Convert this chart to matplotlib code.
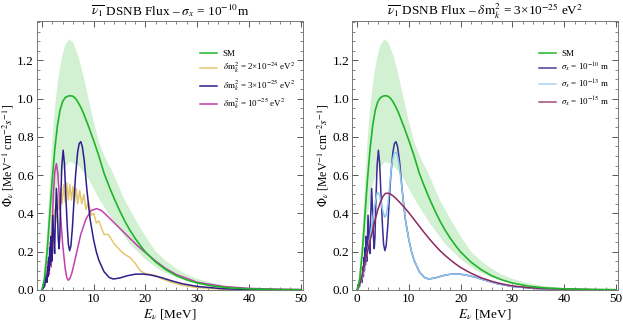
import numpy as np
import matplotlib
matplotlib.use("Agg")
import matplotlib.pyplot as plt
from matplotlib.ticker import MultipleLocator, FixedLocator, FormatStrFormatter

plt.rcParams['font.family'] = ['Liberation Serif', 'DejaVu Serif']
plt.rcParams['mathtext.fontset'] = 'stix'

# ---------------- data ----------------
sm_E = [0, 0.5, 1, 1.5, 2, 2.5, 3, 3.5, 4, 4.5, 5, 5.5, 6, 6.5, 7, 7.5, 8, 9, 10, 11, 12, 13,
        14, 15, 16, 17, 18, 19, 20, 22, 24, 26, 28, 30, 33, 36, 40, 45, 50]
sm_phi = [0, 0.06, 0.2, 0.39, 0.58, 0.74, 0.86, 0.94, 0.985, 1.005, 1.013, 1.015, 1.012, 1.0,
          0.98, 0.955, 0.925, 0.855, 0.78, 0.7, 0.61, 0.54, 0.475, 0.415, 0.36, 0.312, 0.27,
          0.232, 0.198, 0.145, 0.105, 0.074, 0.052, 0.036, 0.02, 0.011, 0.0055, 0.0022, 0.001]

band_hi_E = [0, 0.5, 1, 1.5, 2, 2.5, 3, 3.5, 4, 4.5, 5.3, 6, 7, 8, 9, 10, 11, 12, 13, 13.5, 15,
             16, 17, 18, 20, 22, 24, 26, 28, 30, 33, 36, 40, 50]
band_hi = [0, 0.12, 0.3, 0.55, 0.78, 0.95, 1.07, 1.16, 1.23, 1.28, 1.31, 1.295, 1.225, 1.12,
           1.0, 0.88, 0.775, 0.705, 0.65, 0.625, 0.53, 0.47, 0.42, 0.37, 0.28, 0.2, 0.15, 0.11,
           0.08, 0.058, 0.035, 0.02, 0.01, 0.002]
band_lo_E = [0, 0.5, 1, 2, 3, 4, 5.4, 7, 8.6, 11.2, 14, 17, 20, 23, 26, 30, 35, 40, 50]
band_lo = [0, 0.03, 0.12, 0.38, 0.55, 0.63, 0.67, 0.65, 0.6, 0.47, 0.35, 0.24, 0.16, 0.1,
           0.065, 0.035, 0.015, 0.006, 0.001]

# delta m^2 = 2e-24 eV^2 (yellow)
y24_E = [0, 0.8, 1.2, 1.5, 1.8, 2.1, 2.4, 2.7, 3.0, 3.3, 3.6, 3.9, 4.2, 4.5, 4.8, 5.1, 5.4,
         5.7, 6.0, 6.3, 6.6, 6.9, 7.3, 7.7, 8.1, 8.5, 9.0, 9.5, 10.0, 10.5, 11.0, 12.0, 12.8,
         14.0, 15.0, 16.0, 17.0, 18.0, 19.0, 20.0, 21.0, 22.0, 23.0, 25.0, 27.0, 30.0, 35.0,
         40.0, 50.0]
y24_phi = [0, 0.05, 0.15, 0.1, 0.3, 0.2, 0.42, 0.35, 0.5, 0.42, 0.53, 0.45, 0.55, 0.46, 0.56,
           0.47, 0.55, 0.47, 0.54, 0.46, 0.53, 0.45, 0.52, 0.45, 0.5, 0.42, 0.46, 0.39, 0.4,
           0.35, 0.36, 0.29, 0.29, 0.24, 0.21, 0.185, 0.17, 0.14, 0.1, 0.085, 0.08, 0.075,
           0.06, 0.04, 0.025, 0.012, 0.004, 0.002, 0.0]

# delta m^2 = 3e-25 eV^2, sigma_x = 1e-10 m (indigo)
b_E = [0, 0.5, 0.8, 0.95, 1.1, 1.2, 1.3, 1.4, 1.5, 1.6, 1.75, 1.9, 2.1, 2.3, 2.45, 2.6, 2.8,
       3.0, 3.15, 3.3, 3.45, 3.6, 3.85, 4.1, 4.35, 4.6, 4.9, 5.1, 5.35, 5.6, 5.9, 6.2, 6.5,
       6.9, 7.2, 7.5, 7.8, 8.2, 8.7, 9.3, 10, 10.5, 11, 12, 13, 13.8, 15, 16.5, 18, 19.5, 21,
       23, 25, 27, 30, 35, 40, 50]
b_phi = [0, 0.02, 0.07, 0.04, 0.12, 0.07, 0.17, 0.1, 0.22, 0.13, 0.28, 0.15, 0.39, 0.27,
         0.19, 0.38, 0.53, 0.4, 0.27, 0.215, 0.28, 0.45, 0.65, 0.73, 0.66, 0.5, 0.33, 0.24,
         0.205, 0.23, 0.33, 0.47, 0.6, 0.72, 0.765, 0.775, 0.75, 0.67, 0.52, 0.37, 0.26, 0.2,
         0.155, 0.095, 0.065, 0.057, 0.062, 0.074, 0.082, 0.083, 0.078, 0.065, 0.048, 0.033,
         0.018, 0.006, 0.002, 0.0]

# delta m^2 = 1e-25 eV^2 (magenta)
m_E = [0, 0.5, 0.8, 1.0, 1.2, 1.4, 1.6, 1.8, 2.0, 2.2, 2.5, 2.8, 3.1, 3.5, 4.0, 4.5, 4.8, 5.1,
       5.4, 5.8, 6.5, 7.5, 8.5, 9.5, 10.6, 11.5, 12.5, 14, 15.5, 17, 18.5, 20, 22, 24, 26, 28,
       30, 35, 40, 45, 50]
m_phi = [0, 0.02, 0.08, 0.04, 0.15, 0.08, 0.25, 0.12, 0.35, 0.5, 0.62, 0.66, 0.6, 0.43, 0.24,
         0.11, 0.065, 0.05, 0.06, 0.09, 0.17, 0.29, 0.37, 0.415, 0.425, 0.415, 0.39, 0.35,
         0.31, 0.27, 0.23, 0.195, 0.15, 0.11, 0.08, 0.06, 0.04, 0.018, 0.008, 0.004, 0.002]

# sigma_x = 1e-13 m (light blue)
lb_E = [0, 0.5, 1, 1.5, 2, 2.5, 3, 3.5, 3.9, 4.3, 4.8, 5.3, 5.6, 5.9, 6.3, 6.7, 7.1, 7.4, 7.7,
        8.0, 8.3, 8.7, 9.3, 10, 10.5, 11, 12, 13, 13.8, 15, 16.5, 18, 19.5, 21, 23, 25, 27,
        30, 35, 40, 50]
lb_phi = [0, 0.02, 0.07, 0.13, 0.2, 0.28, 0.37, 0.46, 0.51, 0.5, 0.43, 0.38, 0.39, 0.44,
          0.55, 0.66, 0.71, 0.72, 0.71, 0.67, 0.61, 0.52, 0.37, 0.26, 0.2, 0.155, 0.095,
          0.065, 0.057, 0.062, 0.074, 0.082, 0.083, 0.078, 0.065, 0.048, 0.033, 0.018, 0.006,
          0.002, 0.0]

# sigma_x = 1e-15 m (maroon)
mr_E = [0, 0.5, 1, 1.5, 2, 2.5, 3, 3.5, 4, 4.5, 5, 5.5, 6, 6.5, 7, 7.5, 8, 9, 10, 11, 12, 13,
        14, 15, 16, 17, 18, 19, 20, 22, 24, 26, 28, 30, 33, 36, 40, 45, 50]
mr_phi = [0, 0.03, 0.08, 0.14, 0.2, 0.26, 0.31, 0.37, 0.42, 0.46, 0.49, 0.505, 0.505, 0.5,
          0.49, 0.478, 0.464, 0.435, 0.403, 0.368, 0.333, 0.298, 0.265, 0.234, 0.205, 0.18,
          0.157, 0.136, 0.117, 0.087, 0.063, 0.045, 0.031, 0.021, 0.012, 0.007, 0.0035,
          0.0015, 0.0007]

titles = [r"$\overline{\nu_1}$ DSNB Flux – $\sigma_x$ = 10$^{-10}$m",
          r"$\overline{\nu_1}$ DSNB Flux – $\delta\mathrm{m}_k^2$ = 3×10$^{-25}$ eV$^2$"]
left_labels = ["SM", r"$\delta\mathrm{m}_k^2$ = 2×10$^{-24}$ eV$^2$",
               r"$\delta\mathrm{m}_k^2$ = 3×10$^{-25}$ eV$^2$",
               r"$\delta\mathrm{m}_k^2$ = 10$^{-25}$ eV$^2$"]
right_labels = ["SM", r"$\sigma_x$ = 10$^{-10}$ m", r"$\sigma_x$ = 10$^{-13}$ m",
                r"$\sigma_x$ = 10$^{-15}$ m"]
y_ticks = [0.0, 0.2, 0.4, 0.6, 0.8, 1.0, 1.2]

GREEN = "#1fb52a"
BAND = "#d2f0d2"

fig = plt.figure(figsize=(6.23, 3.25), dpi=100)
ax1 = fig.add_axes([0.059, 0.108, 0.427, 0.827])
ax2 = fig.add_axes([0.565, 0.108, 0.427, 0.827])

def band(ax):
    xs = list(band_hi_E) + list(band_lo_E[::-1])
    ys = list(band_hi) + list(band_lo[::-1])
    ax.fill(xs, ys, color=BAND, lw=0, zorder=1)

def style(ax, title):
    ax.set_xlim(-1, 50.4)
    ax.set_ylim(0, 1.405)
    ax.xaxis.set_major_locator(MultipleLocator(10))
    ax.xaxis.set_minor_locator(MultipleLocator(2))
    ax.yaxis.set_major_locator(FixedLocator(y_ticks))
    ax.yaxis.set_minor_locator(MultipleLocator(0.05))
    ax.yaxis.set_major_formatter(FormatStrFormatter('%.1f'))
    ax.tick_params(which='both', direction='in', top=True, right=True, labelsize=9.5,
                   color='#555555', pad=2)
    ax.tick_params(which='major', length=4, width=0.7)
    ax.tick_params(which='minor', length=2, width=0.5)
    for s in ax.spines.values():
        s.set_color('#777777')
        s.set_linewidth(0.7)
    ax.set_title(title, fontsize=9.5, pad=4)
    ax.set_xlabel(r"$E_\nu$ [MeV]", fontsize=9.5, labelpad=2)
    ax.set_ylabel(r"$\Phi_\nu$ [MeV$^{-1}$ cm$^{-2}s^{-1}$]", fontsize=8.5, labelpad=1)

# Left panel
band(ax1)
ax1.plot(y24_E, y24_phi, color="#e3c76d", lw=1.1, zorder=3)
ax1.plot(m_E, m_phi, color="#c23fae", lw=1.1, zorder=4)
ax1.plot(b_E, b_phi, color="#2e1e8c", lw=1.1, zorder=5)
ax1.plot(sm_E, sm_phi, color=GREEN, lw=1.2, zorder=6)
h = [plt.Line2D([], [], color=c, lw=1.1) for c in [GREEN, "#e3c76d", "#2e1e8c", "#c23fae"]]
ax1.legend(h, left_labels, loc='upper right', bbox_to_anchor=(1.0, 0.925), frameon=False,
           fontsize=6.5, handlelength=1.9, labelspacing=0.38, handletextpad=0.6)
style(ax1, titles[0])

# Right panel
band(ax2)
ax2.plot(b_E, b_phi, color="#3b2e96", lw=1.1, zorder=3)
ax2.plot(lb_E, lb_phi, color="#8ccaef", lw=1.1, zorder=4)
ax2.plot(mr_E, mr_phi, color="#8e2760", lw=1.1, zorder=5)
ax2.plot(sm_E, sm_phi, color=GREEN, lw=1.2, zorder=6)
h = [plt.Line2D([], [], color=c, lw=1.1) for c in [GREEN, "#4a3d9e", "#a5d6f2", "#a04c7a"]]
ax2.legend(h, right_labels, loc='upper right', bbox_to_anchor=(1.0, 0.925), frameon=False,
           fontsize=6.5, handlelength=1.9, labelspacing=0.38, handletextpad=0.6)
style(ax2, titles[1])

fig.savefig("out.png", dpi=100)
